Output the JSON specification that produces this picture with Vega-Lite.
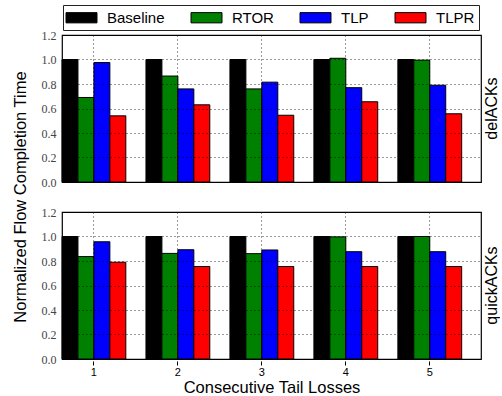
{
  "$schema": "https://vega.github.io/schema/vega-lite/v6.json",
  "padding": {"left": 12, "top": 4, "right": 0, "bottom": 0},
  "data": {"values": [
    {"ack": "delACKs", "loss": "1", "scheme": "Baseline", "value": 1.0},
    {"ack": "delACKs", "loss": "1", "scheme": "RTOR", "value": 0.69},
    {"ack": "delACKs", "loss": "1", "scheme": "TLP", "value": 0.975},
    {"ack": "delACKs", "loss": "1", "scheme": "TLPR", "value": 0.54},
    {"ack": "delACKs", "loss": "2", "scheme": "Baseline", "value": 1.0},
    {"ack": "delACKs", "loss": "2", "scheme": "RTOR", "value": 0.865},
    {"ack": "delACKs", "loss": "2", "scheme": "TLP", "value": 0.76},
    {"ack": "delACKs", "loss": "2", "scheme": "TLPR", "value": 0.63},
    {"ack": "delACKs", "loss": "3", "scheme": "Baseline", "value": 1.0},
    {"ack": "delACKs", "loss": "3", "scheme": "RTOR", "value": 0.76},
    {"ack": "delACKs", "loss": "3", "scheme": "TLP", "value": 0.815},
    {"ack": "delACKs", "loss": "3", "scheme": "TLPR", "value": 0.545},
    {"ack": "delACKs", "loss": "4", "scheme": "Baseline", "value": 1.0},
    {"ack": "delACKs", "loss": "4", "scheme": "RTOR", "value": 1.01},
    {"ack": "delACKs", "loss": "4", "scheme": "TLP", "value": 0.77},
    {"ack": "delACKs", "loss": "4", "scheme": "TLPR", "value": 0.655},
    {"ack": "delACKs", "loss": "5", "scheme": "Baseline", "value": 1.0},
    {"ack": "delACKs", "loss": "5", "scheme": "RTOR", "value": 0.995},
    {"ack": "delACKs", "loss": "5", "scheme": "TLP", "value": 0.79},
    {"ack": "delACKs", "loss": "5", "scheme": "TLPR", "value": 0.557},
    {"ack": "quickACKs", "loss": "1", "scheme": "Baseline", "value": 1.0},
    {"ack": "quickACKs", "loss": "1", "scheme": "RTOR", "value": 0.836},
    {"ack": "quickACKs", "loss": "1", "scheme": "TLP", "value": 0.957},
    {"ack": "quickACKs", "loss": "1", "scheme": "TLPR", "value": 0.79},
    {"ack": "quickACKs", "loss": "2", "scheme": "Baseline", "value": 1.0},
    {"ack": "quickACKs", "loss": "2", "scheme": "RTOR", "value": 0.862},
    {"ack": "quickACKs", "loss": "2", "scheme": "TLP", "value": 0.892},
    {"ack": "quickACKs", "loss": "2", "scheme": "TLPR", "value": 0.755},
    {"ack": "quickACKs", "loss": "3", "scheme": "Baseline", "value": 1.0},
    {"ack": "quickACKs", "loss": "3", "scheme": "RTOR", "value": 0.86},
    {"ack": "quickACKs", "loss": "3", "scheme": "TLP", "value": 0.89},
    {"ack": "quickACKs", "loss": "3", "scheme": "TLPR", "value": 0.755},
    {"ack": "quickACKs", "loss": "4", "scheme": "Baseline", "value": 1.0},
    {"ack": "quickACKs", "loss": "4", "scheme": "RTOR", "value": 0.997},
    {"ack": "quickACKs", "loss": "4", "scheme": "TLP", "value": 0.876},
    {"ack": "quickACKs", "loss": "4", "scheme": "TLPR", "value": 0.755},
    {"ack": "quickACKs", "loss": "5", "scheme": "Baseline", "value": 1.0},
    {"ack": "quickACKs", "loss": "5", "scheme": "RTOR", "value": 1.0},
    {"ack": "quickACKs", "loss": "5", "scheme": "TLP", "value": 0.876},
    {"ack": "quickACKs", "loss": "5", "scheme": "TLPR", "value": 0.755}
  ]},
  "facet": {
    "row": {
      "field": "ack", "type": "nominal", "sort": ["delACKs", "quickACKs"],
      "title": "Normalized Flow Completion Time",
      "header": {"titleOrient": "left", "titleFont": "Liberation Sans", "titleFontSize": 16.5, "titleFontWeight": "normal", "titleColor": "black", "titlePadding": 2,
                 "labelOrient": "right", "labelAngle": -90, "labelFont": "Liberation Sans", "labelFontSize": 16, "labelPadding": -6, "labelColor": "black"}
    }
  },
  "spacing": 27,
  "spec": {
    "width": 419,
    "height": 147,
    "mark": {"type": "bar", "stroke": "black", "strokeWidth": 1},
    "encoding": {
      "x": {
        "field": "loss", "type": "ordinal",
        "scale": {"paddingInner": 0.24, "paddingOuter": 0.115, "align": 0},
        "axis": {"title": "Consecutive Tail Losses", "labelAngle": 0, "labelFont": "Liberation Sans", "labelFontSize": 11, "titleFont": "Liberation Sans", "titleFontSize": 16.5, "titleFontWeight": "normal", "titlePadding": 2, "labelPadding": 1, "grid": true, "gridDash": [1, 3], "gridColor": "black", "gridOpacity": 0.8, "domain": false, "tickSize": 4, "tickColor": "black", "labelColor": "black", "titleColor": "black", "zindex": 1}
      },
      "xOffset": {"field": "scheme", "sort": ["Baseline", "RTOR", "TLP", "TLPR"], "scale": {"paddingInner": 0, "paddingOuter": 0}},
      "y": {
        "field": "value", "type": "quantitative",
        "scale": {"domain": [0, 1.2], "nice": false},
        "axis": {"title": null, "values": [0, 0.2, 0.4, 0.6, 0.8, 1.0, 1.2], "format": ".1f", "labelFont": "Liberation Serif", "labelFontSize": 12, "labelColor": "#444", "grid": true, "gridDash": [1, 3], "gridColor": "black", "gridOpacity": 0.8, "domain": false, "ticks": false, "labelPadding": 4, "zindex": 1}
      },
      "color": {
        "field": "scheme", "type": "nominal",
        "scale": {"domain": ["Baseline", "RTOR", "TLP", "TLPR"], "range": ["#000000", "#008000", "#0000ff", "#ff0000"]},
        "legend": {"title": null, "orient": "none", "legendX": 1, "legendY": -30, "direction": "horizontal", "symbolType": "M-2,-0.66H2V0.66H-2Z", "symbolSize": 240, "symbolStrokeColor": "black", "symbolStrokeWidth": 1, "symbolOpacity": 1, "symbolOffset": 6, "labelFont": "Liberation Sans", "labelFontSize": 15, "labelColor": "black", "labelOffset": 17, "columnPadding": 24, "strokeColor": "#222", "fillColor": "white", "padding": 4}
      }
    }
  },
  "config": {"view": {"stroke": "black", "strokeWidth": 1.2}}
}
